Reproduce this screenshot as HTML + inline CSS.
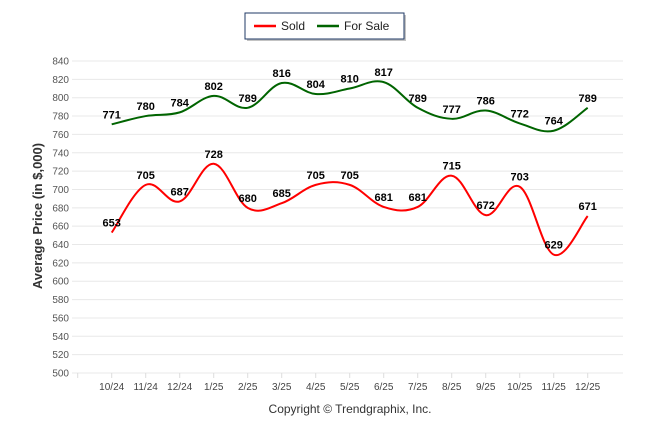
<!DOCTYPE html>
<html><head><meta charset="utf-8"><style>
body{margin:0;background:#fff;}
svg{display:block;font-family:"Liberation Sans",sans-serif;}
</style></head><body>
<svg id="chart" width="646" height="434">
<g>
<rect x="245" y="13" width="159" height="26" fill="#888" opacity="0.5" transform="translate(2,2)"/>
<rect x="245" y="13" width="159" height="26" fill="#fff" stroke="#1f3864" stroke-width="1"/>
<g><line x1="254" y1="26" x2="276" y2="26" stroke="#f00" stroke-width="2.5"/><text x="281" y="30" font-size="12" fill="#222">Sold</text></g>
<g><line x1="317" y1="26" x2="339" y2="26" stroke="#006400" stroke-width="2.5"/><text x="344" y="30" font-size="12" fill="#222">For Sale</text></g>
</g>
<g id="grid"></g>
<g id="xaxis"></g>
<g id="series"></g>
<text x="42" y="216" transform="rotate(-90 42 216)" text-anchor="middle" font-size="13" font-weight="bold" fill="#333">Average Price (in $,000)</text>
<text x="350" y="413" text-anchor="middle" font-size="12" fill="#333">Copyright © Trendgraphix, Inc.</text>
</svg>
<script>
const categories=["10/24","11/24","12/24","1/25","2/25","3/25","4/25","5/25","6/25","7/25","8/25","9/25","10/25","11/25","12/25"];
const sold=[653,705,687,728,680,685,705,705,681,681,715,672,703,629,671];
const forSale=[771,780,784,802,789,816,804,810,817,789,777,786,772,764,789];
const yTicks=[500,520,540,560,580,600,620,640,660,680,700,720,740,760,780,800,820,840];
const NS="http://www.w3.org/2000/svg";
const x0=111.7,dx=34,yTop=61,yBot=373,ymin=500,ymax=840;
const X=i=>x0+i*dx;
const Y=v=>yBot-(v-ymin)/(ymax-ymin)*(yBot-yTop);
function mk(t,a,p){const e=document.createElementNS(NS,t);for(const k in a)e.setAttribute(k,a[k]);p.appendChild(e);return e;}
const grid=document.getElementById('grid');
yTicks.forEach(v=>{
 const l=mk('line',{x1:72,x2:623,y1:Y(v),y2:Y(v),stroke:'#e8e8e8','stroke-width':1},grid);
 
 
 const t=mk('text',{x:69,y:Y(v)+3.5,'text-anchor':'end','font-size':10,fill:'#555'},grid);
 t.textContent=v;
 
 
});
const xa=document.getElementById('xaxis');
mk('line',{x1:77.7,x2:77.7,y1:yBot,y2:yBot+5,stroke:'#ddd'},xa);
categories.forEach((c,i)=>{
 mk('line',{x1:X(i),x2:X(i),y1:yBot,y2:yBot+5,stroke:'#ddd'},xa);
 const t=mk('text',{x:X(i),y:yBot+17,'text-anchor':'middle','font-size':10,fill:'#444'},xa);
 t.textContent=c;
 
 
});
function path(vals){
 const p=vals.map((v,i)=>[X(i),Y(v)]);
 let d='M'+p[0][0]+','+p[0][1];
 for(let i=0;i<p.length-1;i++){
  const p0=p[i-1]||p[i],p1=p[i],p2=p[i+1],p3=p[i+2]||p2;
  const k=0.18;
  d+=' C'+(p1[0]+(p2[0]-p0[0])*k)+','+(p1[1]+(p2[1]-p0[1])*k)+' '+(p2[0]-(p3[0]-p1[0])*k)+','+(p2[1]-(p3[1]-p1[1])*k)+' '+p2[0]+','+p2[1];
 }
 return d;
}
const sg=document.getElementById('series');
[[forSale,'#006400','for-sale'],[sold,'#f00','sold']].forEach(([vals,col,name])=>{
 const pa=mk('path',{d:path(vals),fill:'none',stroke:col,'stroke-width':2},sg);
 
 
 vals.forEach((v,i)=>{
  const t=mk('text',{x:X(i),y:Y(v)-6,'text-anchor':'middle','font-size':11,'font-weight':'bold',fill:'#000'},sg);
  t.textContent=v;
  
  
 });
});
</script>
</body></html>
